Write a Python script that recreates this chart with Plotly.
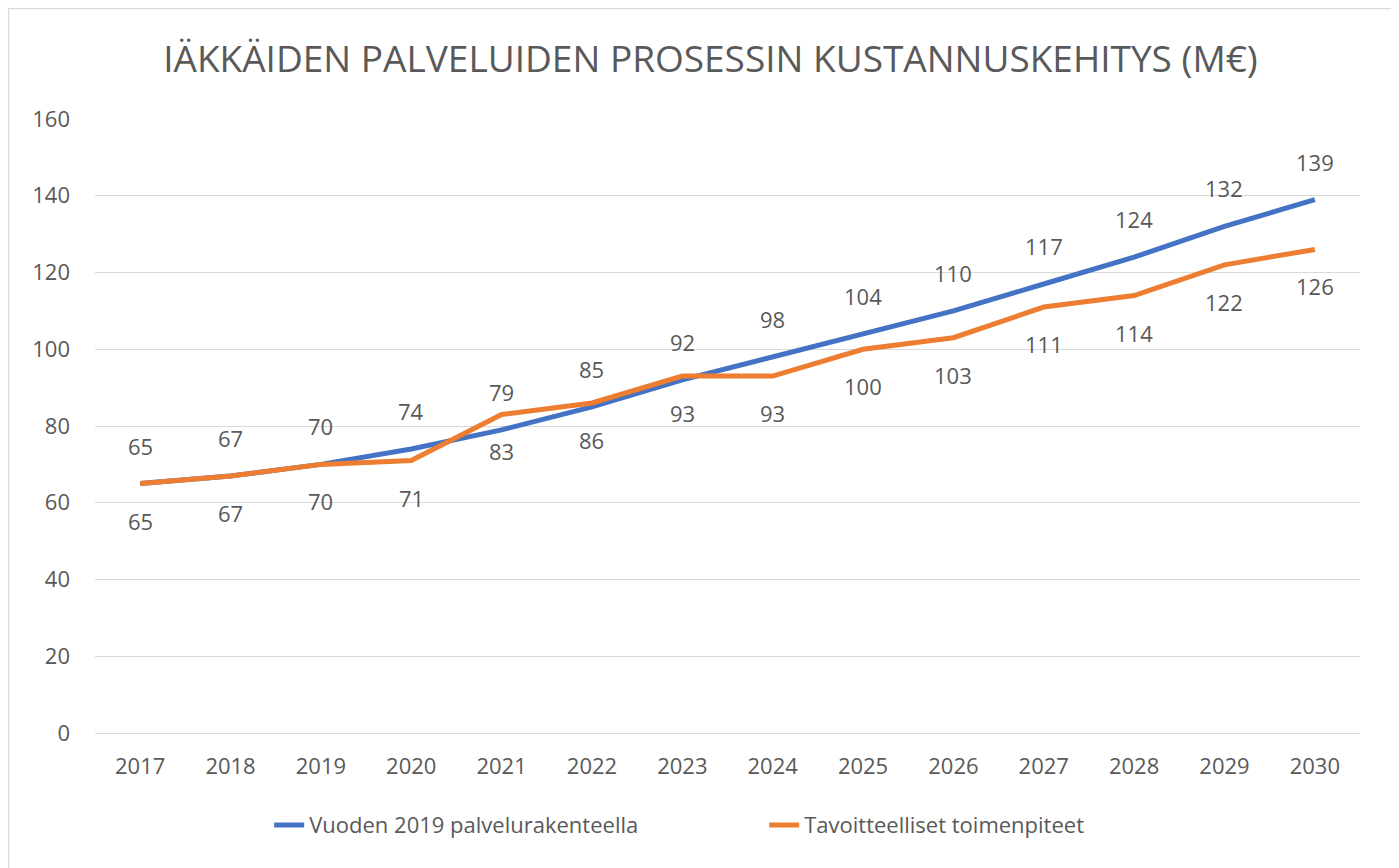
import plotly.graph_objects as go

years = ["2017", "2018", "2019", "2020", "2021", "2022", "2023", "2024",
         "2025", "2026", "2027", "2028", "2029", "2030"]
baseline = [65, 67, 70, 74, 79, 85, 92, 98, 104, 110, 117, 124, 132, 139]
target = [65, 67, 70, 71, 83, 86, 93, 93, 100, 103, 111, 114, 122, 126]
y_ticks = [0, 20, 40, 60, 80, 100, 120, 140, 160]

title_text = "IÄKKÄIDEN PALVELUIDEN PROSESSIN KUSTANNUSKEHITYS (M€)"
name_base = "Vuoden 2019 palvelurakenteella"
name_target = "Tavoitteelliset toimenpiteet"

BLUE = "#4472C4"
ORANGE = "#ED7D31"
GRAY = "#595959"
FONT = "Open Sans"

W, H = 1391, 860
L, R, T, B = 87, 39, 111, 135
PW, PH = W - L - R, H - T - B

fig = go.Figure()
fig.add_trace(go.Scatter(x=years, y=baseline, mode="lines", name=name_base,
                         line=dict(color=BLUE, width=5)))
fig.add_trace(go.Scatter(x=years, y=target, mode="lines", name=name_target,
                         line=dict(color=ORANGE, width=5)))

annotations = []
for i, v in enumerate(baseline):
    annotations.append(dict(x=i, y=v, xref="x", yref="y", text=str(v),
                            showarrow=False, yshift=38,
                            xanchor="center", yanchor="middle",
                            font=dict(size=22, color=GRAY, family=FONT)))
for i, v in enumerate(target):
    annotations.append(dict(x=i, y=v, xref="x", yref="y", text=str(v),
                            showarrow=False, yshift=-37,
                            xanchor="center", yanchor="middle",
                            font=dict(size=22, color=GRAY, family=FONT)))

fig.update_layout(
    width=W, height=H,
    paper_bgcolor="white", plot_bgcolor="white",
    margin=dict(l=L, r=R, t=T, b=B),
    title=dict(text=title_text, x=0.505, xanchor="center", xref="container",
               y=1 - 51 / H, yanchor="middle", yref="container",
               font=dict(size=37, color=GRAY, family=FONT)),
    font=dict(family=FONT, color=GRAY),
    showlegend=True,
    legend=dict(orientation="h", x=0.529, xanchor="center", y=-0.15, yanchor="middle",
                font=dict(size=22, color=GRAY, family=FONT),
                entrywidth=450),
    annotations=annotations,
    xaxis=dict(type="category", range=[-0.5, 13.5], showgrid=False,
               showline=False, ticks="", tickfont=dict(size=22, color=GRAY),
               zeroline=False, ticklabelstandoff=18),
    yaxis=dict(range=[0, 160], tickvals=y_ticks, showgrid=True, gridcolor="#D9D9D9",
               gridwidth=1, zeroline=True, zerolinecolor="#D9D9D9", zerolinewidth=1,
               showline=False, ticks="", tickfont=dict(size=22, color=GRAY),
               ticklabelstandoff=24),
    shapes=[dict(type="rect", xref="paper", yref="paper",
                 x0=-(L - 0.5) / PW, x1=1 + (R - 6) / PW,
                 y0=-(B + 10) / PH, y1=1 + (T - 0.5) / PH,
                 line=dict(color="#D9D9D9", width=1.5), fillcolor="rgba(0,0,0,0)",
                 layer="below")],
)
fig.write_html("out.html")
